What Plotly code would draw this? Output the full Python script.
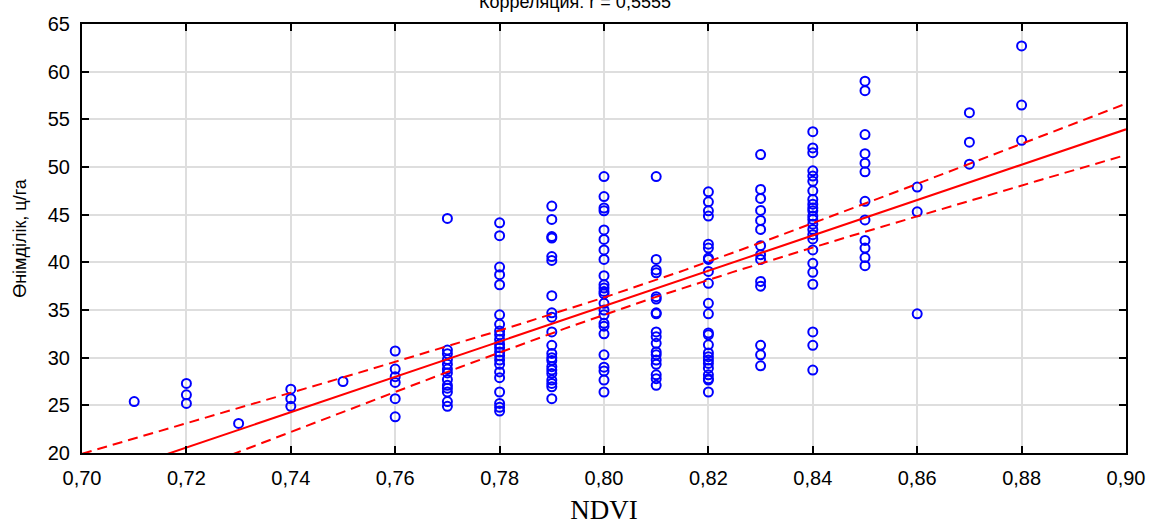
import numpy as np
import plotly.graph_objects as go

# NDVI levels and the yields (ц/га) observed at each level
ndvi_levels = [0.71, 0.72, 0.73, 0.74, 0.75, 0.76, 0.77, 0.78, 0.79,
               0.80, 0.81, 0.82, 0.83, 0.84, 0.85, 0.86, 0.87, 0.88]

yield_071 = [25.4]
yield_072 = [27.3, 26.1, 25.2]
yield_073 = [23.1]
yield_074 = [26.7, 25.7, 24.9]
yield_075 = [27.5]
yield_076 = [30.7, 28.8, 28.0, 27.4, 25.7, 23.8]
yield_077 = [44.6, 30.8, 30.4, 29.8, 29.3, 28.8, 28.4, 27.7, 27.1, 26.8,
             26.4, 25.4, 24.9]
yield_078 = [44.15, 42.8, 39.5, 38.7, 37.65, 34.5, 33.5, 32.8, 32.4, 31.9,
             31.4, 31.05, 30.6, 30.2, 29.75, 29.3, 28.5, 27.9, 26.4, 25.2,
             24.8, 24.4]
yield_079 = [45.9, 44.5, 42.7, 42.55, 40.6, 40.2, 36.5, 34.7, 34.25, 32.7,
             31.3, 30.45, 30.0, 29.7, 29.05, 28.7, 28.35, 27.65, 27.3, 26.95,
             25.7]
yield_080 = [49.0, 46.9, 45.7, 45.4, 43.4, 42.4, 41.3, 40.3, 38.6, 37.65,
             37.3, 36.95, 36.7, 35.7, 35.0, 34.5, 33.6, 33.3, 32.5, 30.3,
             29.0, 28.6, 27.65, 26.4]
yield_081 = [49.0, 40.3, 39.2, 38.9, 36.4, 36.15, 34.7, 34.6, 32.7, 32.2,
             31.5, 30.6, 30.3, 29.75, 29.3, 28.2, 27.8, 27.1]
yield_082 = [47.4, 46.35, 45.4, 44.85, 41.9, 41.5, 40.45, 40.3, 39.05, 37.8,
             35.7, 34.6, 32.6, 32.4, 31.35, 30.5, 30.1, 29.75, 29.4, 28.9,
             28.2, 27.8, 27.65, 26.4]
yield_083 = [51.3, 47.65, 46.7, 45.45, 44.4, 43.45, 41.75, 40.8, 40.3, 38.0,
             37.5, 31.3, 30.3, 29.15]
yield_084 = [53.7, 52.0, 51.5, 49.6, 49.05, 48.5, 47.5, 46.6, 46.1, 45.7,
             45.4, 44.85, 44.5, 44.0, 43.45, 42.9, 42.45, 41.3, 39.9, 38.95,
             37.7, 32.7, 31.3, 28.7]
yield_085 = [59.0, 58.0, 53.4, 51.4, 50.4, 49.5, 46.4, 44.45, 42.3, 41.5,
             40.5, 39.65]
yield_086 = [47.9, 45.3, 34.6]
yield_087 = [55.7, 52.6, 50.3]
yield_088 = [62.7, 56.5, 52.8]

yield_groups = [yield_071, yield_072, yield_073, yield_074, yield_075,
                yield_076, yield_077, yield_078, yield_079, yield_080,
                yield_081, yield_082, yield_083, yield_084, yield_085,
                yield_086, yield_087, yield_088]

x_ticks = [0.70, 0.72, 0.74, 0.76, 0.78, 0.80, 0.82, 0.84, 0.86, 0.88, 0.90]
y_ticks = [20, 25, 30, 35, 40, 45, 50, 55, 60, 65]

title_text = "Корреляция: r = 0,5555"
t_crit = 1.97  # two-sided 95 % Student t for the sample size

# flatten into point arrays
x = np.concatenate([[lvl] * len(g) for lvl, g in zip(ndvi_levels, yield_groups)])
y = np.concatenate(yield_groups)

# least-squares line and 95 % confidence band of the mean
n = len(x)
slope, intercept = np.polyfit(x, y, 1)
resid = y - (slope * x + intercept)
s = np.sqrt(np.sum(resid ** 2) / (n - 2))
x_mean = x.mean()
sxx = np.sum((x - x_mean) ** 2)

xf = np.linspace(x_ticks[0], x_ticks[-1], 200)
yf = slope * xf + intercept
half = t_crit * s * np.sqrt(1.0 / n + (xf - x_mean) ** 2 / sxx)

RED = "#ff0000"
BLUE = "#0000ff"

fig = go.Figure()
fig.add_trace(go.Scatter(
    x=x, y=y, mode="markers",
    marker=dict(symbol="circle-open", size=9, color=BLUE, line=dict(width=2, color=BLUE)),
    showlegend=False, hoverinfo="x+y",
))
fig.add_trace(go.Scatter(x=xf, y=yf, mode="lines",
                         line=dict(color=RED, width=2), showlegend=False))
for band in (yf + half, yf - half):
    fig.add_trace(go.Scatter(x=xf, y=band, mode="lines",
                             line=dict(color=RED, width=2, dash="10px,6px"),
                             showlegend=False))

axis_common = dict(
    showline=True, linecolor="black", linewidth=2, mirror="ticks",
    ticks="inside", ticklen=7, tickwidth=1.5, tickcolor="black",
    showgrid=True, gridcolor="#dedede", gridwidth=1.5, zeroline=False,
    automargin=False,
    tickfont=dict(family="Liberation Sans, Arial, sans-serif", size=20, color="black"),
)

fig.update_layout(
    width=1150, height=525,
    margin=dict(l=82, r=24, t=24, b=72),
    paper_bgcolor="white", plot_bgcolor="white",
    separators=", ",
    title=dict(text=title_text, x=0.5, xanchor="center", xref="container",
               y=0.997, yanchor="middle", yref="container",
               font=dict(family="Liberation Sans, Arial, sans-serif", size=18, color="black")),
    xaxis=dict(range=[x_ticks[0], x_ticks[-1]], tickvals=x_ticks, tickformat=".2f",
               ticklabelstandoff=6,
               title=dict(text="NDVI", standoff=20,
                          font=dict(family="Liberation Serif, Times New Roman, serif", size=27, color="black")),
               **axis_common),
    yaxis=dict(range=[y_ticks[0], y_ticks[-1]], tickvals=y_ticks,
               ticklabelstandoff=6,
               title=dict(text="Өнімділік, ц/га", standoff=16,
                          font=dict(family="Liberation Sans, Arial, sans-serif", size=18, color="black")),
               **axis_common),
)

fig.write_html("out.html")
